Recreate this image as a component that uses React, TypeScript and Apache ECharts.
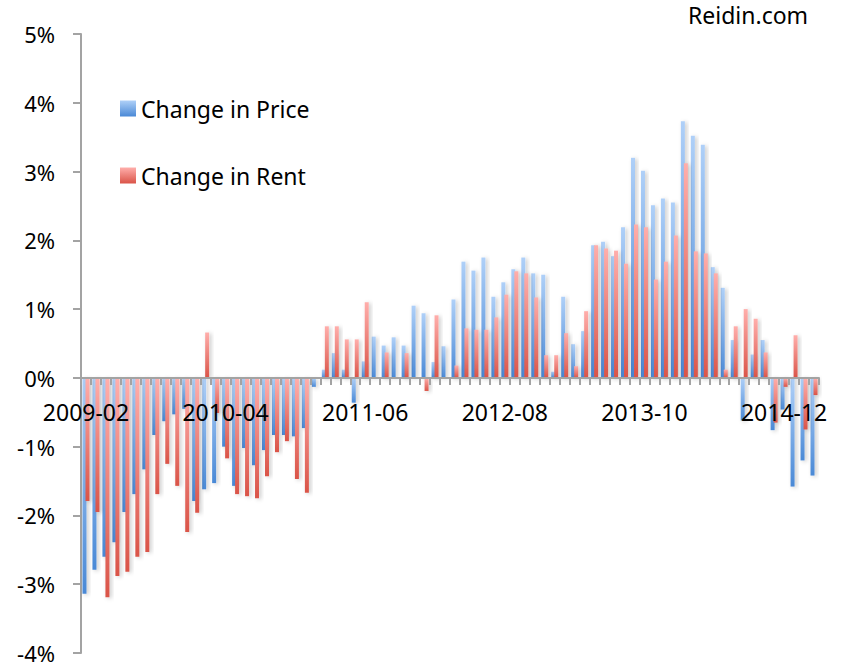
import React, { useEffect, useRef } from "react";
import * as echarts from "echarts";

const categories = [
  "2009-02","2009-03","2009-04","2009-05","2009-06","2009-07","2009-08","2009-09","2009-10","2009-11","2009-12",
  "2010-01","2010-02","2010-03","2010-04","2010-05","2010-06","2010-07","2010-08","2010-09","2010-10","2010-11","2010-12",
  "2011-01","2011-02","2011-03","2011-04","2011-05","2011-06","2011-07","2011-08","2011-09","2011-10","2011-11","2011-12",
  "2012-01","2012-02","2012-03","2012-04","2012-05","2012-06","2012-07","2012-08","2012-09","2012-10","2012-11","2012-12",
  "2013-01","2013-02","2013-03","2013-04","2013-05","2013-06","2013-07","2013-08","2013-09","2013-10","2013-11","2013-12",
  "2014-01","2014-02","2014-03","2014-04","2014-05","2014-06","2014-07","2014-08","2014-09","2014-10","2014-11","2014-12",
  "2015-01","2015-02","2015-03",
];

// monthly change in price, %
const priceChange = [
  -3.14, -2.79, -2.6, -2.39, -1.95, -1.69, -1.33, -0.83, -0.63, -0.53, -0.45,
  -1.79, -1.62, -1.53, -1.0, -1.57, -1.02, -1.27, -1.05, -0.83, -0.83, -0.85, -0.73,
  -0.13, 0.12, 0.36, 0.12, -0.36, 0.24, 0.6, 0.47, 0.59, 0.47, 1.05, 0.94,
  0.23, 0.46, 1.14, 1.69, 1.56, 1.75, 1.18, 1.39, 1.58, 1.75, 1.52, 1.5,
  0.09, 1.18, 0.49, 0.68, 1.93, 1.98, 1.77, 2.19, 3.2, 3.01, 2.51, 2.61,
  2.55, 3.73, 3.52, 3.39, 1.61, 1.31, 0.55, -0.62, 0.34, 0.55, -0.76, -0.46,
  -1.58, -1.2, -1.42,
];

// monthly change in rent, %
const rentChange = [
  -1.79, -1.95, -3.19, -2.88, -2.82, -2.6, -2.53, -1.69, -1.25, -1.57, -2.24,
  -1.96, 0.66, -0.51, -1.17, -1.69, -1.72, -1.75, -1.43, -1.08, -0.92, -1.47, -1.67,
  0, 0.75, 0.75, 0.56, 0.56, 1.1, 0, 0.37, 0, 0.36, 0, -0.19,
  0.91, 0, 0.18, 0.72, 0.7, 0.7, 0.88, 1.21, 1.55, 1.52, 1.17, 0.33,
  0.33, 0.65, 0.17, 0.97, 1.93, 1.88, 1.85, 1.66, 2.23, 2.19, 1.43, 1.69,
  2.07, 3.12, 1.84, 1.81, 1.52, 0.12, 0.75, 1.0, 0.86, 0.37, -0.65, -0.13,
  0.62, -0.75, -0.25,
];

const yMin = -4;
const yMax = 5;
const yStep = 1;

const FONT = "'Noto Sans', sans-serif";

const GRID_TOP = 34;
const GRID_BOTTOM = 15;
const HEIGHT = 668;

export default function App() {
  const ref = useRef<HTMLDivElement>(null);

  useEffect(() => {
    if (!ref.current) return;
    const chart = echarts.init(ref.current, null, { renderer: "svg" });
    const blue = new echarts.graphic.LinearGradient(0, 0, 0, 1, [
      { offset: 0, color: "#AFD0F8" },
      { offset: 1, color: "#4A89D6" },
    ]);
    const red = new echarts.graphic.LinearGradient(0, 0, 0, 1, [
      { offset: 0, color: "#FFAEAB" },
      { offset: 1, color: "#DA5448" },
    ]);
    const shadow = {
      shadowColor: "rgba(0,0,0,0.22)",
      shadowBlur: 4,
      shadowOffsetX: 2,
      shadowOffsetY: 1,
    };
    // move the category axis (line, ticks, labels) up to the zero line
    const plotH = HEIGHT - GRID_TOP - GRID_BOTTOM;
    const zeroFromBottom = (plotH * (0 - yMin)) / (yMax - yMin);
    chart.setOption({
      animation: false,
      backgroundColor: "#ffffff",
      title: {
        text: "Reidin.com",
        left: 688,
        top: 3,
        padding: 0,
        textStyle: { fontSize: 23, fontWeight: "normal", color: "#000", fontFamily: FONT },
      },
      legend: {
        orient: "vertical",
        left: 120,
        top: 97,
        padding: 0,
        itemWidth: 16,
        itemHeight: 16,
        itemGap: 44,
        icon: "rect",
        textStyle: { fontSize: 23, color: "#000", fontFamily: FONT },
        data: ["Change in Price", "Change in Rent"],
      },
      grid: {
        left: 81,
        right: 23,
        top: GRID_TOP,
        bottom: GRID_BOTTOM,
        containLabel: false,
        outerBoundsMode: "none",
      },
      xAxis: {
        type: "category",
        data: categories,
        z: 10,
        offset: -zeroFromBottom,
        axisLine: { onZero: false, lineStyle: { color: "#A3A3A3", width: 2 } },
        axisTick: { show: true, interval: 0, length: 7, lineStyle: { color: "#A3A3A3", width: 2 } },
        axisLabel: { interval: 13, fontSize: 23, color: "#000", margin: 23, fontFamily: FONT },
        splitLine: { show: false },
      },
      yAxis: {
        type: "value",
        min: yMin,
        max: yMax,
        interval: yStep,
        axisLine: { show: true, lineStyle: { color: "#A3A3A3", width: 2 } },
        axisTick: { show: true, length: 8, lineStyle: { color: "#A3A3A3", width: 2 } },
        axisLabel: {
          formatter: (v: number) => `${v}%`,
          fontSize: 22,
          color: "#000",
          margin: 26,
          fontFamily: FONT,
        },
        splitLine: { show: false },
      },
      series: [
        {
          name: "Change in Price",
          type: "bar",
          data: priceChange,
          barWidth: 4,
          barGap: "-25%",
          itemStyle: { color: blue, ...shadow },
        },
        {
          name: "Change in Rent",
          type: "bar",
          data: rentChange,
          barWidth: 4,
          barGap: "-25%",
          itemStyle: { color: red, ...shadow },
        },
      ],
    });
    return () => chart.dispose();
  }, []);

  return (
    <div
      ref={ref}
      style={{ position: "fixed", left: 0, top: 0, width: 842, height: 668, background: "#fff" }}
    />
  );
}
